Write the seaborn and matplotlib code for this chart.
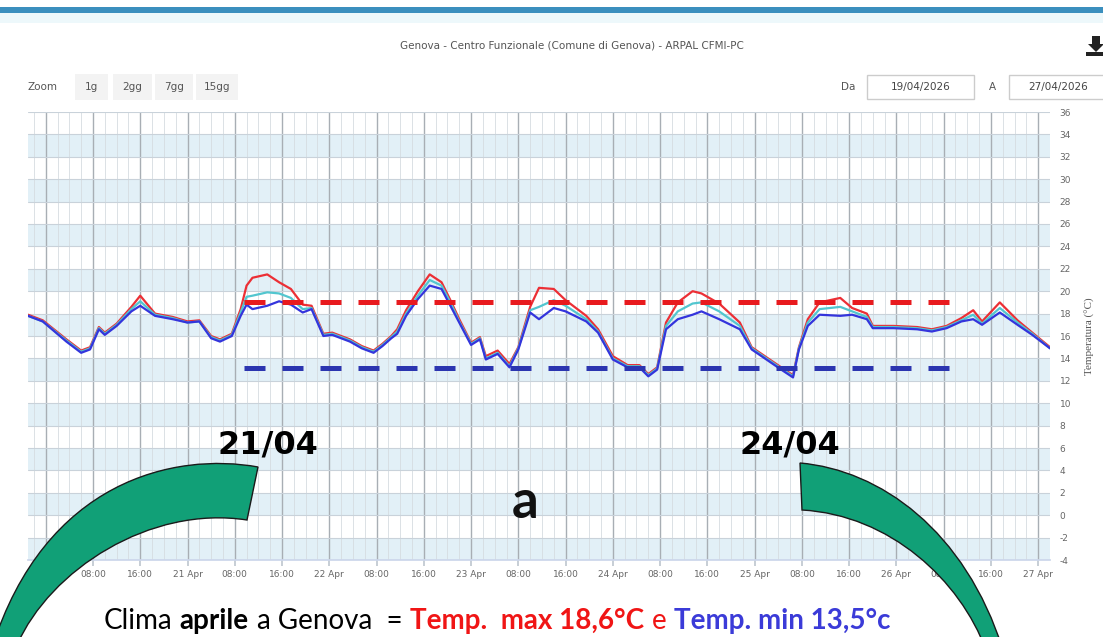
import numpy as np
import pandas as pd
import matplotlib
matplotlib.use("Agg")
import matplotlib.pyplot as plt
import matplotlib.dates as mdates
from matplotlib.ticker import FuncFormatter
from matplotlib.patches import Rectangle, PathPatch, Polygon
from matplotlib.path import Path
from matplotlib.offsetbox import TextArea, HPacker, AnnotationBbox
import seaborn as sns

# hours after 20/04/2026 00:00
hours = [-3, -0.5, 3.5, 6, 7.5, 9, 10, 12, 14.5, 16,
         18.5, 21.5, 24, 26, 28, 29.5, 31.5, 33, 34, 35,
         37.5, 39.5, 41.5, 43.5, 45, 47, 48.5, 51.5, 53.5, 55.5,
         57, 58.5, 59.5, 61, 63, 65, 67, 68.5, 70, 72,
         73.5, 74.5, 76.5, 78.5, 80, 82, 83.5, 86, 88, 91.5,
         93.5, 96, 98.5, 100.5, 102, 103.5, 105, 107, 109.5, 111,
         114, 117.5, 119.5, 122, 124.5, 126.5, 127.5, 129, 131, 134.5,
         136.5, 139, 140, 143.5, 147.5, 150, 152.5, 155, 157, 158.5,
         161.5, 164.5, 167, 170]
t_max = [17.9, 17.4, 15.7, 14.7, 15.0, 16.8, 16.3, 17.1, 18.6, 19.6,
         18.0, 17.7, 17.3, 17.4, 16.0, 15.7, 16.2, 18.4, 20.5, 21.2,
         21.5, 20.8, 20.2, 18.8, 18.7, 16.2, 16.3, 15.7, 15.1, 14.7,
         15.3, 16.0, 16.6, 18.3, 20.0, 21.5, 20.8, 19.2, 17.5, 15.4,
         15.9, 14.2, 14.7, 13.5, 15.0, 18.6, 20.3, 20.2, 19.2, 17.8,
         16.6, 14.2, 13.4, 13.4, 12.6, 13.2, 17.2, 19.0, 20.0, 19.8,
         18.9, 17.2, 15.0, 14.1, 13.2, 12.5, 15.0, 17.5, 19.0, 19.4,
         18.5, 18.0, 16.9, 16.9, 16.8, 16.6, 16.9, 17.6, 18.3, 17.3,
         19.0, 17.4, 16.3, 15.0]
t_med = [17.8, 17.3, 15.6, 14.6, 14.9, 16.7, 16.2, 17.0, 18.4, 19.1,
         17.9, 17.6, 17.2, 17.3, 15.9, 15.6, 16.1, 18.1, 19.5, 19.6,
         19.9, 19.8, 19.4, 18.4, 18.5, 16.1, 16.2, 15.6, 15.0, 14.6,
         15.2, 15.9, 16.4, 18.0, 19.6, 21.0, 20.5, 19.0, 17.3, 15.3,
         15.8, 14.0, 14.5, 13.3, 14.9, 18.3, 18.6, 19.2, 18.7, 17.5,
         16.4, 14.0, 13.3, 13.3, 12.5, 13.1, 16.9, 18.2, 18.9, 19.0,
         18.2, 16.9, 14.9, 14.0, 13.1, 12.4, 14.9, 17.2, 18.4, 18.6,
         18.2, 17.7, 16.8, 16.8, 16.7, 16.5, 16.8, 17.4, 17.9, 17.1,
         18.5, 17.2, 16.2, 14.9]
t_min = [17.8, 17.3, 15.5, 14.5, 14.8, 16.6, 16.1, 16.9, 18.2, 18.7,
         17.8, 17.5, 17.2, 17.3, 15.8, 15.5, 16.0, 17.8, 18.8, 18.4,
         18.7, 19.1, 18.8, 18.1, 18.4, 16.0, 16.1, 15.5, 14.9, 14.5,
         15.1, 15.8, 16.2, 17.8, 19.3, 20.5, 20.2, 18.7, 17.2, 15.2,
         15.7, 13.9, 14.4, 13.2, 14.8, 18.1, 17.5, 18.5, 18.2, 17.3,
         16.3, 13.9, 13.2, 13.2, 12.4, 13.0, 16.6, 17.5, 17.9, 18.2,
         17.5, 16.6, 14.8, 13.9, 13.0, 12.3, 14.8, 16.9, 17.9, 17.8,
         17.9, 17.5, 16.7, 16.7, 16.6, 16.4, 16.7, 17.3, 17.5, 17.0,
         18.1, 17.0, 16.1, 14.9]

# climate reference lines (as drawn)
clima_max = 19.0
clima_min = 13.1
clima_start = "2026-04-21 09:30"
clima_end = "2026-04-26 10:00"

t0 = pd.Timestamp("2026-04-20 00:00")
times = t0 + pd.to_timedelta(hours, unit="h")
df = pd.concat([
    pd.DataFrame({"time": times, "temp": t_max, "serie": "max"}),
    pd.DataFrame({"time": times, "temp": t_med, "serie": "med"}),
    pd.DataFrame({"time": times, "temp": t_min, "serie": "min"}),
])

W, H = 1103, 637
sns.set_theme(style="white")
plt.rcParams["font.family"] = ["DejaVu Sans"]
plt.rcParams["axes.unicode_minus"] = False
fig = plt.figure(figsize=(W / 100, H / 100), dpi=100)
fig.patch.set_facecolor("white")

ax = fig.add_axes([28 / W, 1 - 560 / H, (1050 - 28) / W, (560 - 112) / H])
ax.set_facecolor("white")
for lo in range(-4, 36, 4):
    ax.axhspan(lo, lo + 2, color="#e2f0f7", zorder=0, lw=0)

sns.lineplot(data=df, x="time", y="temp", hue="serie", hue_order=["max", "med", "min"],
             palette={"max": "#ec2f35", "med": "#52c6cf", "min": "#3434dc"},
             lw=1.6, legend=False, ax=ax, zorder=3)

ax.hlines(clima_max, pd.Timestamp(clima_start), pd.Timestamp(clima_end), colors="#e81a1e",
          lw=3.6, linestyles=(0, (4.2, 3.4)), zorder=4)
ax.hlines(clima_min, pd.Timestamp(clima_start), pd.Timestamp(clima_end), colors="#2b35b0",
          lw=3.6, linestyles=(0, (4.2, 3.4)), zorder=4)

ax.set_xlim(times[0], times[-1])
ax.set_ylim(-4, 36)
ax.set_yticks(range(-4, 37, 2))
ax.xaxis.set_major_locator(mdates.HourLocator(byhour=[0, 8, 16]))
ax.xaxis.set_minor_locator(mdates.HourLocator(byhour=range(0, 24, 2)))


def fmt(x, pos):
    d = mdates.num2date(x)
    return d.strftime("%d %b").lstrip("0") if d.hour == 0 else d.strftime("%H:%M")


ax.xaxis.set_major_formatter(FuncFormatter(fmt))
ax.grid(axis="y", which="major", color="#c9d2da", lw=0.8)
ax.grid(axis="x", which="major", color="#a8aeb4", lw=1.0)
ax.grid(axis="x", which="minor", color="#d6dce1", lw=0.6)
ax.set_axisbelow(True)
ax.yaxis.tick_right()
ax.yaxis.set_label_position("right")
ax.tick_params(axis="y", length=0, pad=7, labelsize=6.5, labelcolor="#666666")
ax.tick_params(axis="x", which="major", length=4, color="#c0c8d0", pad=3,
               labelsize=6.5, labelcolor="#666666", bottom=True)
ax.tick_params(axis="x", which="minor", length=0)
ax.set_xlabel("")
ax.set_ylabel("Temperatura (°C)", family="Liberation Serif", fontsize=8,
              color="#555555", labelpad=10)
for s in ["top", "left", "right"]:
    ax.spines[s].set_visible(False)
ax.spines["bottom"].set_color("#ccd6eb")

# overlay in pixel coordinates for screenshot decorations
ov = fig.add_axes([0, 0, 1, 1])
ov.set_zorder(5)
ov.patch.set_alpha(0)
ov.set_xlim(0, W)
ov.set_ylim(H, 0)
ov.axis("off")

ov.add_patch(Rectangle((0, 7), W, 6, color="#3b8fbe", lw=0))
ov.add_patch(Rectangle((0, 13), W, 10, color="#edf8fb", lw=0))

ov.text(572, 45, "Genova - Centro Funzionale (Comune di Genova) - ARPAL CFMI-PC",
        ha="center", va="center", fontsize=7.5, color="#555555")
ov.text(28, 87, "Zoom", ha="left", va="center", fontsize=7.5, color="#555555")
for lab, x0, x1 in [("1g", 75, 108), ("2gg", 113, 152), ("7gg", 155, 193), ("15gg", 196, 238)]:
    ov.add_patch(Rectangle((x0, 74), x1 - x0, 26, color="#f3f3f3", lw=0))
    ov.text((x0 + x1) / 2, 87, lab, ha="center", va="center", fontsize=7.5, color="#555555")
ov.text(848, 87, "Da", ha="center", va="center", fontsize=7.5, color="#555555")
ov.add_patch(Rectangle((867, 75), 107, 24, facecolor="white", edgecolor="#cccccc", lw=1))
ov.text(921, 87, "19/04/2026", ha="center", va="center", fontsize=7.5, color="#444444")
ov.text(992, 87, "A", ha="center", va="center", fontsize=7.5, color="#555555")
ov.add_patch(Rectangle((1009, 75), 110, 24, facecolor="white", edgecolor="#cccccc", lw=1))
ov.text(1058, 87, "27/04/2026", ha="center", va="center", fontsize=7.5, color="#444444")
ov.add_patch(Polygon([(1092, 36), (1100, 36), (1100, 44), (1104, 44), (1096, 52), (1088, 44),
                      (1092, 44)], closed=True, color="#222222", lw=0))
ov.add_patch(Rectangle((1086, 52), 20, 4, color="#222222", lw=0))

# green curved arrows
C = Path.CURVE4
left_arrow = Path([(258, 467), (175, 452), (45, 480), (-8, 648),
                   (17, 645), (50, 570), (150, 505), (247, 520), (258, 467)],
                  [Path.MOVETO, C, C, C, Path.LINETO, C, C, C, Path.CLOSEPOLY])
right_arrow = Path([(800, 463), (880, 470), (965, 530), (1003, 650),
                    (986, 650), (960, 580), (890, 515), (802, 510), (800, 463)],
                   [Path.MOVETO, C, C, C, Path.LINETO, C, C, C, Path.CLOSEPOLY])
for p in (left_arrow, right_arrow):
    ov.add_patch(PathPatch(p, facecolor="#11a077", edgecolor="#1a1a1a", lw=1.0))

ov.text(268, 445, "21/04", ha="center", va="center", fontsize=23, weight="bold", color="black")
ov.text(790, 445, "24/04", ha="center", va="center", fontsize=23, weight="bold", color="black")
ov.text(525, 502, "a", ha="center", va="center", fontsize=38, weight="bold",
        family="Lato", color="#111111")

parts = [("Clima", "normal", "black"), ("aprile", "bold", "black"),
         ("a Genova  =", "normal", "black"), ("Temp.  max 18,6°C", "bold", "#f01515"),
         ("e", "normal", "#f01515"), ("Temp. min 13,5°c", "bold", "#3b3bd8")]
boxes = [TextArea(s, textprops=dict(fontsize=20, weight=w, color=c, family="Lato"))
         for s, w, c in parts]
pack = HPacker(children=boxes, align="baseline", pad=0, sep=5.5)
ov.add_artist(AnnotationBbox(pack, (497, 621), xycoords="data", frameon=False,
                             box_alignment=(0.5, 0.5)))

fig.savefig("out.png", dpi=100)
